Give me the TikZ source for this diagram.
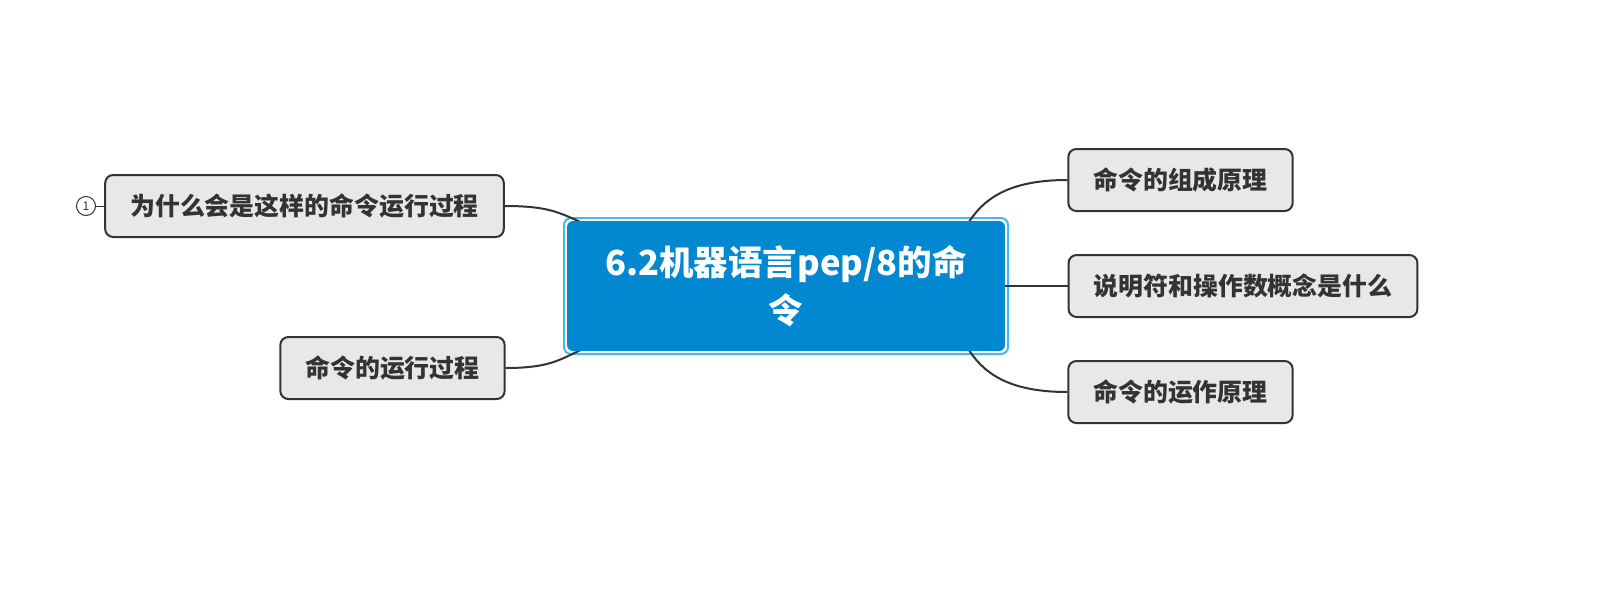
\documentclass[tikz,border=0pt]{standalone}
\usepackage{fontspec}
\setmainfont{Noto Sans CJK SC}
\usepackage{xcolor}
\usepackage{tikz}
\usetikzlibrary{
  positioning,
  calc,
  backgrounds
}
\definecolor{rootblue}{HTML}{0288D1}
\definecolor{ringblue}{HTML}{42B8F5}
\definecolor{topicgrey}{HTML}{E8E8E8}
\definecolor{darkgrey}{HTML}{333333}
\tikzset{
  rootbox/.style={
    rectangle, rounded corners=6pt, fill=rootblue, text=white,
    minimum width=438pt, minimum height=130pt, align=center,
    font=\fontsize{34.5pt}{48pt}\selectfont\bfseries, inner sep=0pt
  },
  ringbox/.style={
    rectangle, rounded corners=7pt, draw=ringblue, fill=white,
    line width=2pt, minimum width=444pt, minimum height=136pt
  },
  topicbox/.style={
    rectangle, rounded corners=8pt, draw=darkgrey, fill=topicgrey,
    line width=2pt, minimum height=62pt, inner xsep=25pt,
    text=darkgrey, font=\fontsize{24.9pt}{30pt}\selectfont\bfseries
  },
  markcircle/.style={
    circle, draw=darkgrey, fill=white, line width=1pt,
    minimum size=19pt, inner sep=0pt, text=darkgrey,
    font=\fontsize{12pt}{12pt}\selectfont
  },
  linkline/.style={
    line width=2pt, color=darkgrey
  },
}

\begin{document}
\begin{tikzpicture}[x=1pt, y=-1pt]
  \useasboundingbox (0,0) rectangle (1599,595);

  \node[rootbox] (root) at (786,286) {6.2机器语言pep/8的命\\令};

  \node[topicbox] (why)   at (304.5,206) {为什么会是这样的命令运行过程};
  \node[topicbox] (run)   at (392.5,368) {命令的运行过程};
  \node[topicbox] (form)  at (1180.5,180) {命令的组成原理};
  \node[topicbox] (spec)  at (1243,286) {说明符和操作数概念是什么};
  \node[topicbox] (work)  at (1180.5,392) {命令的运作原理};

  \node[markcircle] (mark) at (86,206) {1};

  \begin{scope}[on background layer]
    \node[ringbox] (ring) at (root) {};
    \draw[linkline] (why.east) .. controls +(50,0) and +(-30,-12) .. ($(root.north west)+(25,6)$);
    \draw[linkline] (run.east) .. controls +(50,0) and +(-30,12) .. ($(root.south west)+(25,-6)$);
    \draw[linkline] ($(root.north east)+(-38,4)$) .. controls +(15,-25) and +(-60,0) .. (form.west);
    \draw[linkline] (root.east) -- (spec.west);
    \draw[linkline] ($(root.south east)+(-38,-4)$) .. controls +(15,25) and +(-60,0) .. (work.west);
    \draw[darkgrey, line width=1pt] (mark.east) -- (why.west);
  \end{scope}
\end{tikzpicture}
\end{document}
